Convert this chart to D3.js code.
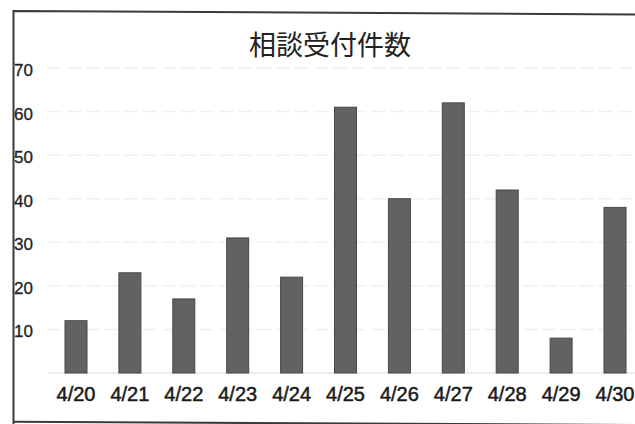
<!DOCTYPE html>
<html>
<head>
<meta charset="utf-8">
<script src="https://cdn.jsdelivr.net/npm/d3@7"></script>
<style>
  body { margin: 0; background: #fff; }
  svg { display: block; }
</style>
</head>
<body>
<div id="chart"></div>
<script>
// data
var title = "相談受付件数";
var dates = ["4/20", "4/21", "4/22", "4/23", "4/24", "4/25", "4/26", "4/27", "4/28", "4/29", "4/30"];
var counts = [12, 23, 17, 31, 22, 61, 40, 62, 42, 8, 38];
var yTicks = [10, 20, 30, 40, 50, 60, 70];

var width = 635, height = 424;

var svg = d3.select("#chart")
  .append("svg")
  .attr("width", width)
  .attr("height", height);

// scales
var xScale = d3.scalePoint()
  .domain(dates)
  .range([76, 615]);

var yScale = d3.scaleLinear()
  .domain([0, 70])
  .range([373, 68]);

var barWidth = 22;

// frame (scanned page border, slightly tilted)
svg.append("path")
  .attr("d", "M13.5,424 L13.5,11 L640,14.5")
  .attr("fill", "none")
  .attr("stroke", "#3a3a3a")
  .attr("stroke-width", 2);

svg.append("line")
  .attr("x1", 13.5).attr("y1", 421.8)
  .attr("x2", 640).attr("y2", 425)
  .attr("stroke", "#3a3a3a")
  .attr("stroke-width", 2);

// faint gridlines
svg.append("g")
  .selectAll("line")
  .data(yTicks)
  .enter()
  .append("line")
  .attr("x1", 48)
  .attr("x2", 635)
  .attr("y1", function(d) { return yScale(d); })
  .attr("y2", function(d) { return yScale(d); })
  .attr("stroke", "#f0f0f0")
  .attr("stroke-width", 1.5)
  .attr("stroke-dasharray", "14,5");

// baseline
svg.append("line")
  .attr("x1", 48).attr("x2", 635)
  .attr("y1", yScale(0)).attr("y2", yScale(0))
  .attr("stroke", "#e6e6e6")
  .attr("stroke-width", 1.5);

// y labels
svg.append("g")
  .selectAll("text")
  .data(yTicks)
  .enter()
  .append("text")
  .attr("x", 14)
  .attr("y", function(d) { return yScale(d) + 2; })
  .attr("dy", "0.35em")
  .attr("font-family", "Liberation Sans, Arial, sans-serif")
  .attr("font-size", 17)
  .attr("fill", "#222")
  .attr("stroke", "#222")
  .attr("stroke-width", 0.3)
  .text(function(d) { return d; });

// bars
svg.append("g")
  .selectAll("rect")
  .data(counts)
  .enter()
  .append("rect")
  .attr("x", function(d, i) { return xScale(dates[i]) - barWidth / 2; })
  .attr("y", function(d) { return yScale(d); })
  .attr("width", barWidth)
  .attr("height", function(d) { return yScale(0) - yScale(d); })
  .attr("fill", "#626262")
  .attr("stroke", "#474747")
  .attr("stroke-width", 1);

// x labels
svg.append("g")
  .selectAll("text")
  .data(dates)
  .enter()
  .append("text")
  .attr("x", function(d) { return xScale(d); })
  .attr("y", 401)
  .attr("text-anchor", "middle")
  .attr("font-family", "Liberation Sans, Arial, sans-serif")
  .attr("font-size", 20)
  .attr("fill", "#1a1a1a")
  .attr("stroke", "#1a1a1a")
  .attr("stroke-width", 0.5)
  .text(function(d) { return d; });

// title
svg.append("text")
  .attr("x", 330)
  .attr("y", 55)
  .attr("text-anchor", "middle")
  .attr("font-family", "Noto Sans CJK JP, sans-serif")
  .attr("font-size", 27)
  .attr("fill", "#222")
  .text(title);
</script>
</body>
</html>
